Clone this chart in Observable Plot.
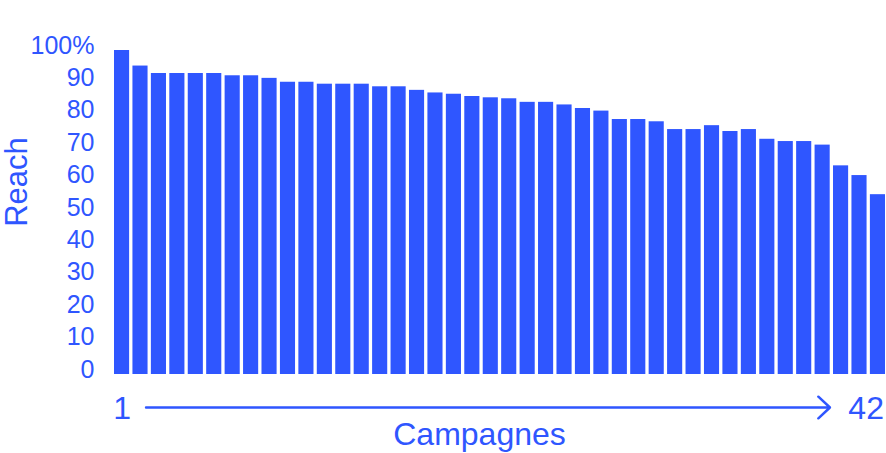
<!DOCTYPE html>
<html><head><meta charset="utf-8">
<script src="https://cdn.jsdelivr.net/npm/d3@7"></script>
<script src="https://cdn.jsdelivr.net/npm/@observablehq/plot@0.6"></script>
<style>
  html, body { margin: 0; padding: 0; background: #fff; }
</style>
</head><body><div id="chart"></div>
<script>
const campaigns = [1,2,3,4,5,6,7,8,9,10,11,12,13,14,15,16,17,18,19,20,21,22,23,24,25,26,27,28,29,30,31,32,33,34,35,36,37,38,39,40,41,42];
const reach = [100,95.2,92.9,92.9,92.9,92.9,92.2,92.2,91.4,90.2,90.2,89.6,89.6,89.6,88.8,88.8,87.7,86.9,86.5,85.8,85.4,85.1,84.0,84.0,83.2,82.1,81.3,78.7,78.7,78.0,75.6,75.6,76.8,75.0,75.6,72.6,71.9,71.9,70.8,64.4,61.4,55.5];
const yTicks = [0,10,20,30,40,50,60,70,80,90,100];
const yTitle = "Reach";
const xTitle = "Campagnes";
const firstLabel = "1";
const lastLabel = "42";

const blue = "#2f56ff";
const font = "'Liberation Sans', Arial, Helvetica, sans-serif";
const data = campaigns.map((c, i) => ({campaign: c, reach: reach[i]}));
const first = campaigns[0], last = campaigns[campaigns.length - 1];

const chart = Plot.plot({
  width: 886,
  height: 453,
  marginLeft: 114,
  marginRight: 1,
  marginTop: 50,
  marginBottom: 79,
  style: {fontFamily: font, fontSize: "25px", color: blue, background: "#fff", overflow: "visible"},
  x: {type: "band", domain: campaigns, padding: 0.18, paddingInner: 0.18, paddingOuter: 0, align: 0.5, round: false, axis: null},
  y: {domain: [0, 100]},
  marks: [
    Plot.barY(data, {x: "campaign", y: "reach", fill: blue}),
    Plot.axisY({ticks: yTicks, tickSize: 0, tickPadding: 20, label: null, dy: -5,
      tickFormat: d => d === 100 ? "100%" : String(d), fontSize: 25}),
    Plot.text([yTitle], {text: d => d, frameAnchor: "left", textAnchor: "middle", lineAnchor: "middle",
      rotate: -90, dx: -97, dy: -30.5, fontSize: 31, fill: blue}),
    Plot.text([xTitle], {text: d => d, frameAnchor: "bottom", textAnchor: "middle", lineAnchor: "middle",
      dx: -20.5, dy: 60, fontSize: 32, fill: blue}),
    Plot.text([firstLabel], {x: () => first, y: () => 0, text: d => d, textAnchor: "middle", lineAnchor: "middle",
      dy: 34, fontSize: 32, fill: blue}),
    Plot.text([lastLabel], {x: () => last, y: () => 0, text: d => d, textAnchor: "end", lineAnchor: "middle",
      dx: 6, dy: 34, fontSize: 32, fill: blue}),
    Plot.arrow([{from: first, to: last}], {x1: "from", x2: "to", y1: () => 0, y2: () => 0, dy: 33,
      insetStart: 24, insetEnd: 48, stroke: blue, strokeWidth: 2.5, headLength: 9.5, headAngle: 86})
  ]
});
document.getElementById("chart").appendChild(chart);
</script>
</body></html>
